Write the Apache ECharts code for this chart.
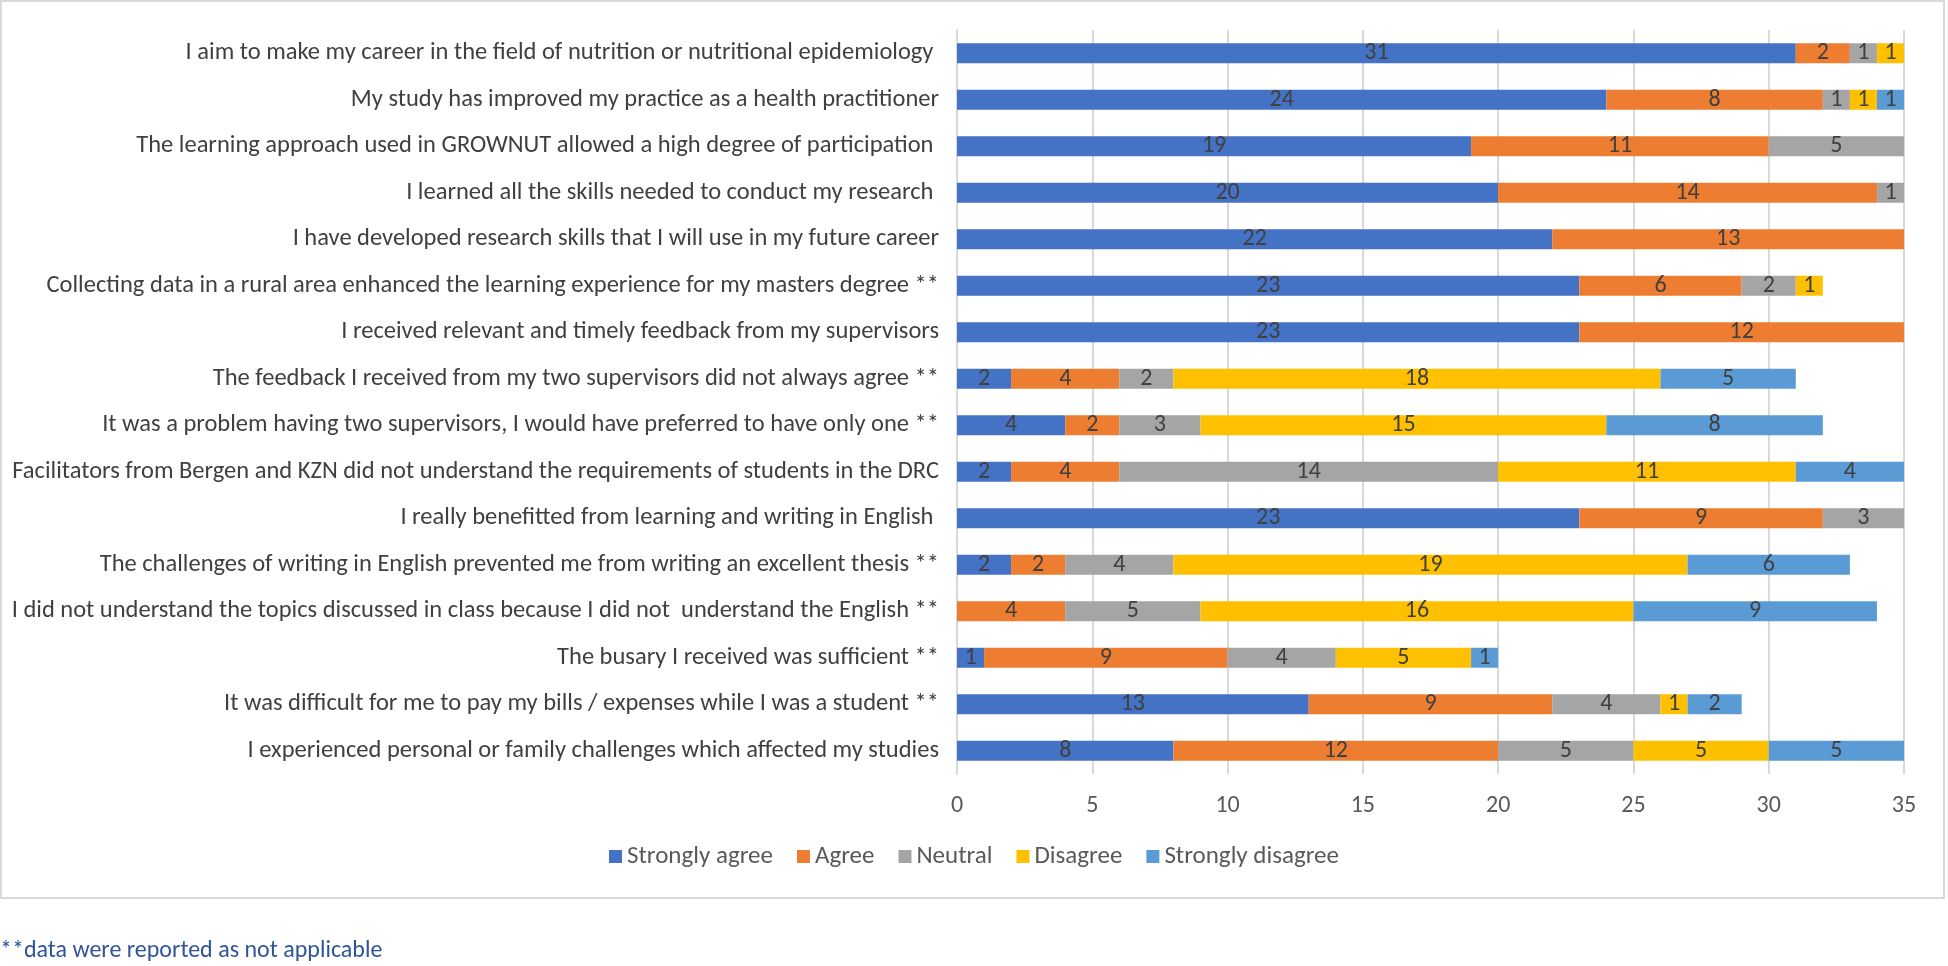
<!DOCTYPE html>
<html>
<head>
<meta charset="utf-8">
<script src="https://cdn.jsdelivr.net/npm/echarts@6/dist/echarts.min.js"></script>
<style>
html,body{margin:0;padding:0;background:#fff;}
#chart{width:1948px;height:966px;}
</style>
</head>
<body>
<div id="chart"></div>
<script>
const categories = [
  "I aim to make my career in the field of nutrition or nutritional epidemiology ",
  "My study has improved my practice as a health practitioner",
  "The learning approach used in GROWNUT allowed a high degree of participation ",
  "I learned all the skills needed to conduct my research ",
  "I have developed research skills that I will use in my future career",
  "Collecting data in a rural area enhanced the learning experience for my masters degree **",
  "I received relevant and timely feedback from my supervisors",
  "The feedback I received from my two supervisors did not always agree **",
  "It was a problem having two supervisors, I would have preferred to have only one **",
  "Facilitators from Bergen and KZN did not understand the requirements of students in the DRC",
  "I really benefitted from learning and writing in English ",
  "The challenges of writing in English prevented me from writing an excellent thesis **",
  "I did not understand the topics discussed in class because I did not  understand the English **",
  "The busary I received was sufficient **",
  "It was difficult for me to pay my bills / expenses while I was a student **",
  "I experienced personal or family challenges which affected my studies"
];
const stronglyAgree    = [31, 24, 19, 20, 22, 23, 23, 2, 4, 2, 23, 2, 0, 1, 13, 8];
const agree            = [2, 8, 11, 14, 13, 6, 12, 4, 2, 4, 9, 2, 4, 9, 9, 12];
const neutral          = [1, 1, 5, 1, 0, 2, 0, 2, 3, 14, 3, 4, 5, 4, 4, 5];
const disagree         = [1, 1, 0, 0, 0, 1, 0, 18, 15, 11, 0, 19, 16, 5, 1, 5];
const stronglyDisagree = [0, 1, 0, 0, 0, 0, 0, 5, 8, 4, 0, 6, 9, 1, 2, 5];
const xTicks = [0, 5, 10, 15, 20, 25, 30, 35];
const footnote = "**data were reported as not applicable";

const FONT = 'Carlito, "Liberation Sans Narrow", "Open Sans", sans-serif';
const seriesDefs = [
  ["Strongly agree", stronglyAgree, "#4472C4"],
  ["Agree", agree, "#ED7D31"],
  ["Neutral", neutral, "#A5A5A5"],
  ["Disagree", disagree, "#FFC000"],
  ["Strongly disagree", stronglyDisagree, "#5B9BD5"]
];

const chart = echarts.init(document.getElementById('chart'), null, {renderer: 'canvas'});
chart.setOption({
  animation: false,
  textStyle: {fontFamily: FONT},
  graphic: [
    {type: 'rect', shape: {x: 1, y: 1, width: 1943, height: 897},
     style: {fill: 'none', stroke: '#D9D9D9', lineWidth: 2}, silent: true},
    {type: 'text', left: 0, top: 939,
     style: {text: footnote, fill: '#2F5597', font: '24px ' + FONT}}
  ],
  legend: {
    bottom: 92, left: 'center',
    itemWidth: 13, itemHeight: 13, itemGap: 24,
    icon: 'rect',
    textStyle: {color: '#595959', fontSize: 25, fontFamily: FONT},
    data: seriesDefs.map(s => s[0])
  },
  grid: {left: 957, right: 44, top: 30, bottom: 192, containLabel: false},
  xAxis: {
    type: 'value', min: 0, max: 35, interval: 5,
    axisLine: {show: false}, axisTick: {show: false},
    splitLine: {lineStyle: {color: '#D9D9D9', width: 2}},
    axisLabel: {color: '#595959', fontSize: 24, margin: 20, fontFamily: FONT,
      formatter: v => xTicks.includes(v) ? String(v) : ''}
  },
  yAxis: {
    type: 'category', inverse: true, data: categories,
    axisLine: {show: true, lineStyle: {color: '#D9D9D9', width: 2}},
    axisTick: {show: false},
    axisLabel: {color: '#404040', fontSize: 24.5, margin: 18, fontFamily: FONT}
  },
  series: seriesDefs.map(([name, data, color]) => ({
    name, type: 'bar', stack: 'total', data,
    barWidth: 20,
    itemStyle: {color},
    label: {
      show: true, position: 'inside', color: '#404040', fontSize: 24, fontFamily: FONT,
      formatter: p => p.value ? String(p.value) : ''
    }
  }))
});
</script>
</body>
</html>
